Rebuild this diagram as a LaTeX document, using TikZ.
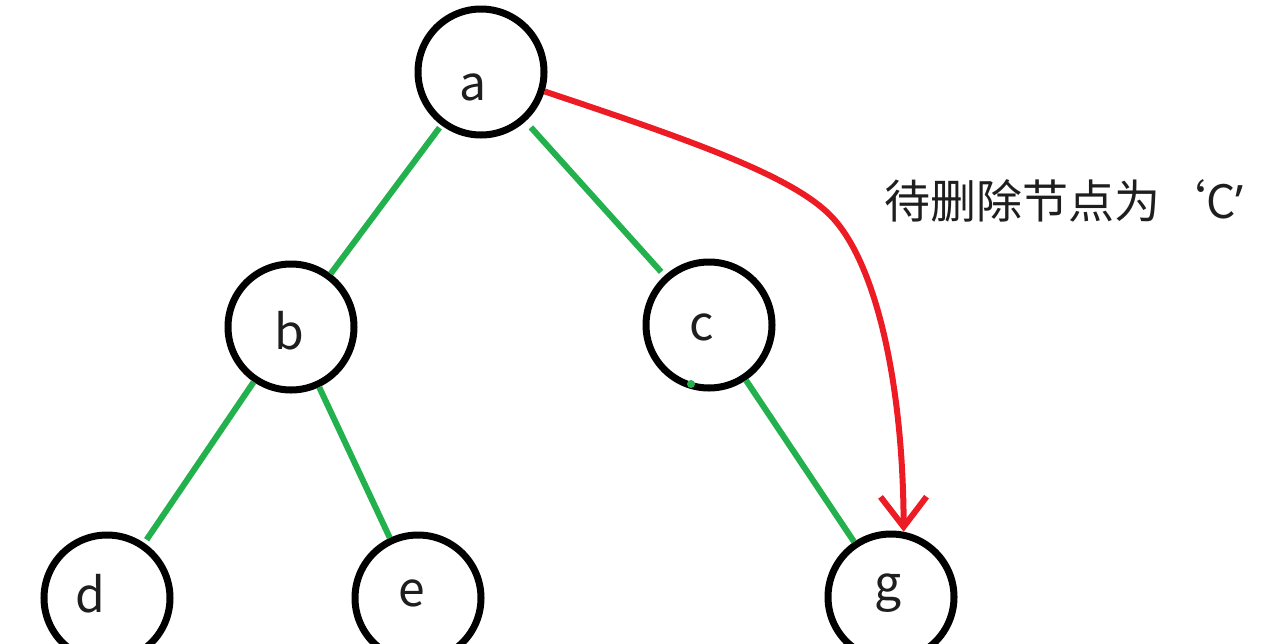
\documentclass[tikz,border=0pt]{standalone}
\usepackage{fontspec}
\setmainfont{Noto Sans CJK SC}
\newfontfamily\latinq{Noto Sans}
\usetikzlibrary{arrows.meta}
\definecolor{pgreen}{RGB}{34,177,76}
\definecolor{pred}{RGB}{237,28,36}
\definecolor{ptext}{RGB}{30,30,30}
\newcommand\treelab[3]{\raisebox{-#2pt}[0pt][0pt]{\hspace*{#1pt}#3\hspace*{-#1pt}}}
\begin{document}
\begin{tikzpicture}[x=1pt,y=-1pt,
  treenode/.style={circle,draw=black,line width=7pt,minimum size=126pt,inner sep=0pt,
    font=\fontsize{48}{56}\selectfont,text=ptext},
  treeedge/.style={draw=pgreen,line width=6pt},
  redarrow/.style={draw=pred,line width=6pt,-{Straight Barb[length=30pt,width=46pt]}},
  note/.style={font=\fontsize{46}{54}\selectfont,text=ptext,anchor=west,inner sep=0pt}]
\useasboundingbox (0,0) rectangle (1274,643);
\node[treenode] (a) at (481,72) {\treelab{-8}{28}{a}};
\node[treenode] (b) at (291,327) {\treelab{-2}{22}{b}};
\node[treenode] (c) at (709,325) {\treelab{-7}{15}{c}};
\node[treenode] (d) at (107,598) {\treelab{-17}{14}{d}};
\node[treenode] (e) at (418,598) {\treelab{-6}{8}{e}};
\node[treenode] (g) at (891,597) {\treelab{-3}{3}{g}};
\draw[treeedge,shorten <=3pt] (a) -- (b);
\draw[treeedge,shorten <=8pt,shorten >=5pt] (a) -- (c);
\draw[treeedge,shorten >=4pt] (b) -- (d);
\draw[treeedge] (b) -- (e);
\draw[treeedge] (c) -- (g);
\fill[pgreen] (691,384) circle (4);
\coordinate (bend) at (830,215);
\draw[redarrow] (a.-17) .. controls (690,140) and (790,175) .. (bend)
  .. controls (875,260) and (903,380) .. (g.79);
\node[note] (lbl) at (884,201) {待删除节点为‘C{\latinq ’}};
\end{tikzpicture}
\end{document}
